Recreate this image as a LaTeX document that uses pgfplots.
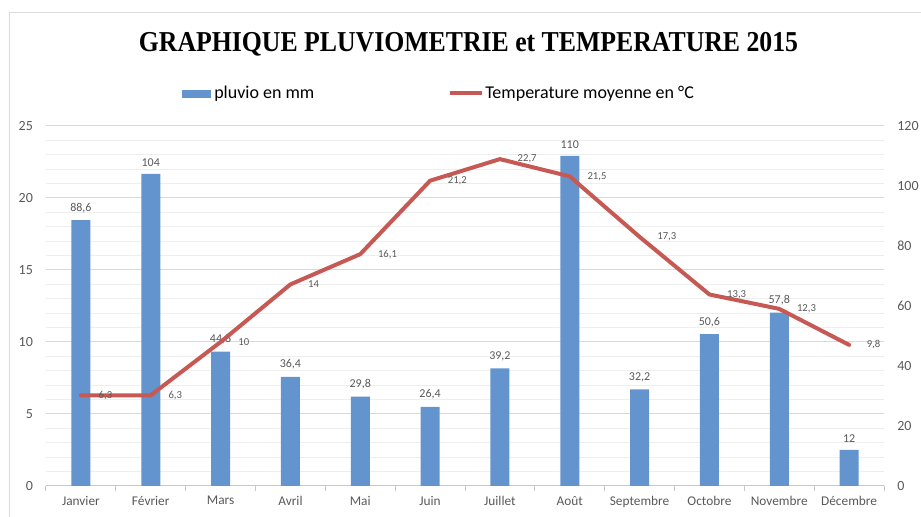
\documentclass[border=0pt]{standalone}
\usepackage{pgfplots}
\pgfplotsset{compat=1.18}
\usepackage{fontspec}
\setmainfont{Carlito}
\newfontfamily\titlefont{Liberation Serif}
\definecolor{barblue}{RGB}{99,148,205}
\definecolor{linered}{RGB}{198,89,84}
\definecolor{lblgray}{RGB}{89,89,89}
\definecolor{majgrid}{RGB}{217,217,217}
\definecolor{mingrid}{RGB}{238,238,238}
\definecolor{axgray}{RGB}{200,200,200}
\begin{document}
\begin{tikzpicture}[x=0.75pt,y=0.75pt]
\path[use as bounding box] (0,0) rectangle (921,517);
\draw[majgrid, line width=0.75pt] (9,0) -- (9,504) -- (921,504);
\node[anchor=base] at (468.5,465) {\scalebox{0.92}[1.03]{\titlefont\bfseries\fontsize{21}{21}\selectfont GRAPHIQUE PLUVIOMETRIE et TEMPERATURE 2015}};
% legend
\fill[barblue] (182,419) rectangle (211,427);
\node[anchor=west, inner sep=0pt, font=\fontsize{13.5}{16}\selectfont] at (214,423) {pluvio en mm};
\draw[linered, line width=3pt] (450,424) -- (482,424);
\node[anchor=west, inner sep=0pt, font=\fontsize{13.5}{16}\selectfont] at (485,423) {Temperature moyenne en °C};

% grid + left axis + categories
\begin{axis}[
  at={(34.5pt,23.25pt)}, anchor=south west,
  width=628.5pt, height=270pt, scale only axis,
  xmin=-0.5, xmax=11.5, ymin=0, ymax=25,
  axis x line*=bottom, axis y line*=left,
  axis line style={-},
  y axis line style={draw=none},
  x axis line style={draw=axgray, line width=0.75pt},
  ytick={0,5,...,25}, minor y tick num=4,
  ymajorgrids, yminorgrids,
  major grid style={majgrid, line width=0.75pt},
  minor grid style={mingrid, line width=0.75pt},
  ytick style={draw=none}, minor y tick style={draw=none},
  xtick={0,...,11},
  xticklabels={Janvier,Février,Mars,Avril,Mai,Juin,Juillet,Août,Septembre,Octobre,Novembre,Décembre},
  major x tick style={draw=none},
  minor xtick={-0.5,0.5,...,11.5},
  minor x tick style={axgray, line width=0.75pt},
  minor tick length=3.75pt,
  tick align=outside,
  ticklabel style={font=\fontsize{10}{12}\selectfont, text=lblgray},
  yticklabel style={font=\fontsize{10.5}{12}\selectfont, xshift=-2pt},
  /pgf/number format/assume math mode=true,
]
\addplot[draw=none, forget plot] coordinates {(0,0)};
\end{axis}

% bars, right axis
\begin{axis}[
  at={(34.5pt,23.25pt)}, anchor=south west,
  width=628.5pt, height=270pt, scale only axis,
  xmin=-0.5, xmax=11.5, ymin=0, ymax=120,
  axis y line*=right, axis x line=none,
  axis line style={-},
  y axis line style={draw=none},
  ytick={0,20,...,120}, ytick style={draw=none},
  ticklabel style={font=\fontsize{10.5}{12}\selectfont, text=lblgray},
  yticklabel style={xshift=6.5pt},
  ybar, bar width=14.25pt,
  nodes near coords,
  every node near coord/.append style={font=\fontsize{9}{11}\selectfont, text=lblgray, yshift=2pt},
  /pgf/number format/use comma,
  /pgf/number format/assume math mode=true,
  clip=false,
]
\addplot[fill=barblue, draw=none] coordinates {
(0,88.6) (1,104) (2,44.8) (3,36.4) (4,29.8) (5,26.4) (6,39.2) (7,110) (8,32.2) (9,50.6) (10,57.8) (11,12)};
\end{axis}

% temperature line, left axis
\begin{axis}[
  at={(34.5pt,23.25pt)}, anchor=south west,
  width=628.5pt, height=270pt, scale only axis,
  xmin=-0.5, xmax=11.5, ymin=0, ymax=25,
  hide axis, clip=false,
  nodes near coords,
  nodes near coords align=horizontal,
  every node near coord/.append style={anchor=west, xshift=8.5pt, font=\fontsize{8}{10}\selectfont, text=lblgray},
  /pgf/number format/use comma,
  /pgf/number format/assume math mode=true,
]
\addplot[linered, line width=3pt, mark=none, line join=round, line cap=round] coordinates {
(0,6.3) (1,6.3) (2,10) (3,14) (4,16.1) (5,21.2) (6,22.7) (7,21.5) (8,17.3) (9,13.3) (10,12.3) (11,9.8)};
\end{axis}
\end{tikzpicture}
\end{document}
